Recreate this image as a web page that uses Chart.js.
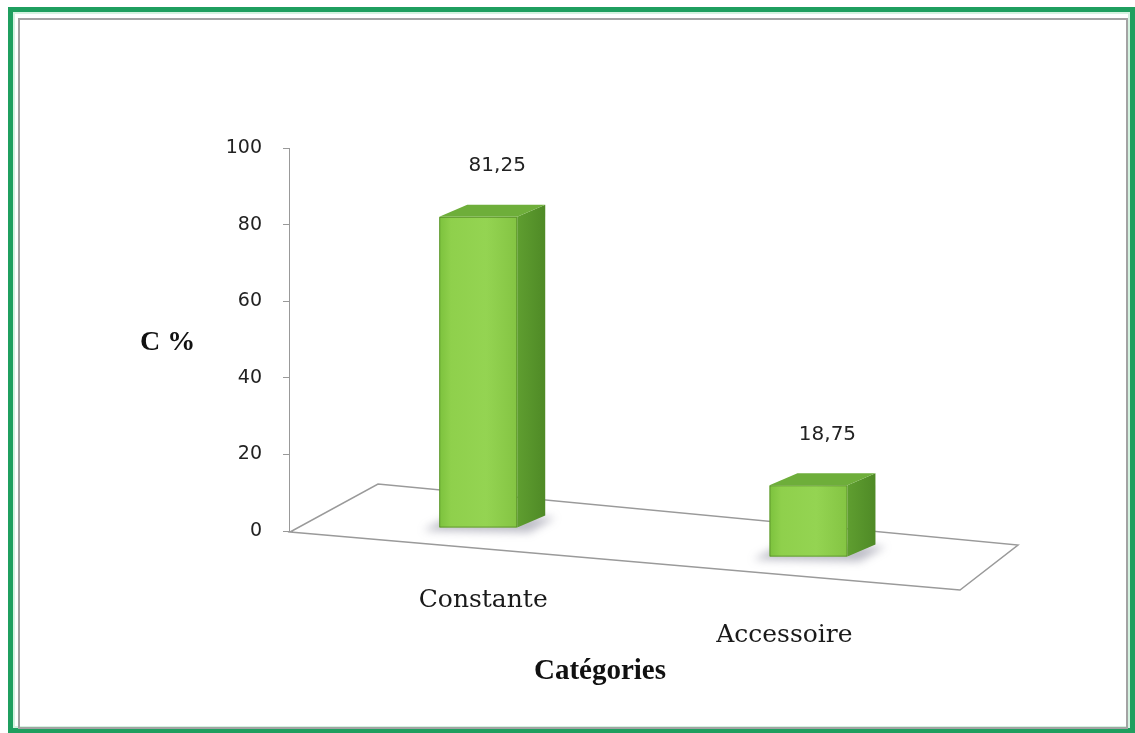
<!DOCTYPE html>
<html>
<head>
<meta charset="utf-8">
<script src="https://cdn.jsdelivr.net/npm/chart.js@4.4.1/dist/chart.umd.min.js"></script>
<style>
    html, body { margin: 0; padding: 0; background: #fff; }
    #frame {
        position: absolute; left: 8px; top: 7px; width: 1127px; height: 726px;
        border: 5px solid #1f9f5f; box-sizing: border-box;
        box-shadow: inset 0 0 0 2px #d4f2e0;
    }
    #inner {
        position: absolute; left: 18px; top: 18px; width: 1110px; height: 711px;
        border: 2px solid #a3a3a3; box-sizing: border-box;
    }
    #chart { position: absolute; left: 0; top: 0; }
</style>
</head>
<body>
<div id="frame"></div>
<div id="inner"></div>
<canvas id="chart" width="1135" height="733"></canvas>
<script>
const categories = ['Constante', 'Accessoire'];
const values = [81.25, 18.75];
const yTicks = [0, 20, 40, 60, 80, 100];

// oblique projection settings for the fake 3D look
const slope = 0.088;      // how much the floor drops per px to the right
const depthX = 28;
const depthY = -12;
const barW = 78;

function frNumber(v) {
    return v.toFixed(2).replace('.', ',');
}

// vertical shift of a bar standing on the tilted floor
function floorShift(area, cx) {
    return (cx - area.left) * slope - 19.6;
}

const bars3d = {
    id: 'bars3d',
    beforeDatasetsDraw(chart) {
        const { ctx, chartArea: a } = chart;
        const L = a.left, B = a.bottom;
        ctx.save();
        ctx.strokeStyle = '#9a9a9a';
        ctx.lineWidth = 1.5;
        ctx.beginPath();
        ctx.moveTo(L + 1, B + 1);
        ctx.lineTo(L + 671, B + 59);
        ctx.lineTo(L + 729, B + 14);
        ctx.lineTo(L + 89, B - 47);
        ctx.closePath();
        ctx.stroke();
        ctx.restore();
    },
    afterDatasetsDraw(chart) {
        const { ctx, chartArea: a } = chart;
        const meta = chart.getDatasetMeta(0);
        meta.data.forEach((el, i) => {
            const cx = el.x;
            const dy = floorShift(a, cx);
            const x0 = cx - barW / 2, x1 = cx + barW / 2;
            const yTop = el.y + dy, yBot = el.base + dy;

            // soft shadow on the floor
            ctx.save();
            ctx.filter = 'blur(4px)';
            ctx.fillStyle = 'rgba(90, 90, 115, 0.4)';
            ctx.beginPath();
            ctx.moveTo(x0 - 16, yBot + 3);
            ctx.lineTo(x1 + 12, yBot + 5);
            ctx.lineTo(x1 + depthX + 10, yBot + depthY + 2);
            ctx.lineTo(x0 + depthX - 16, yBot + depthY);
            ctx.closePath();
            ctx.fill();
            ctx.restore();

            ctx.save();
            ctx.lineJoin = 'round';
            // side face
            const sg = ctx.createLinearGradient(x1, 0, x1 + depthX, 0);
            sg.addColorStop(0, '#5f9e30');
            sg.addColorStop(1, '#4f8a26');
            ctx.fillStyle = sg;
            ctx.beginPath();
            ctx.moveTo(x1, yTop);
            ctx.lineTo(x1 + depthX, yTop + depthY);
            ctx.lineTo(x1 + depthX, yBot + depthY);
            ctx.lineTo(x1, yBot);
            ctx.closePath();
            ctx.fill();

            // top face
            ctx.fillStyle = '#6eae3a';
            ctx.beginPath();
            ctx.moveTo(x0, yTop);
            ctx.lineTo(x0 + depthX, yTop + depthY);
            ctx.lineTo(x1 + depthX, yTop + depthY);
            ctx.lineTo(x1, yTop);
            ctx.closePath();
            ctx.fill();

            // front face
            const fg = ctx.createLinearGradient(x0, 0, x1, 0);
            fg.addColorStop(0, '#7cc23d');
            fg.addColorStop(0.15, '#8fd04c');
            fg.addColorStop(0.6, '#94d452');
            fg.addColorStop(1, '#84c443');
            ctx.fillStyle = fg;
            ctx.fillRect(x0, yTop, barW, yBot - yTop);
            ctx.strokeStyle = 'rgba(70, 120, 30, 0.6)';
            ctx.lineWidth = 1;
            ctx.strokeRect(x0 + 0.5, yTop + 0.5, barW - 1, yBot - yTop - 1);
            ctx.restore();

            // value label
            ctx.save();
            ctx.fillStyle = '#222';
            ctx.font = '20px "DejaVu Sans"';
            ctx.textAlign = 'center';
            ctx.textBaseline = 'middle';
            ctx.fillText(frNumber(values[i]), cx + 19, yTop - 51);

            // category label, following the front edge of the floor
            const off = cx - a.left - 189;
            ctx.fillStyle = '#1a1a1a';
            ctx.font = '25px "DejaVu Serif"';
            ctx.fillText(categories[i], cx + 5 - off * slope, yBot + 73 + off * 0.018);
            ctx.restore();
        });

        // axis titles
        ctx.save();
        ctx.fillStyle = '#111';
        ctx.textBaseline = 'middle';
        ctx.font = 'bold 28px "Liberation Serif"';
        ctx.textAlign = 'left';
        ctx.fillText('C %', 140, 343);
        ctx.font = 'bold 29px "Liberation Serif"';
        ctx.textAlign = 'center';
        ctx.fillText('Catégories', 600, 672);
        ctx.restore();
    }
};

const ctx = document.getElementById('chart').getContext('2d');
new Chart(ctx, {
    type: 'bar',
    data: {
        datasets: [
            {
                label: 'C %',
                data: values.map((v, i) => ({ x: i, y: v })),
                backgroundColor: 'rgba(0, 0, 0, 0)',
                barThickness: barW,
            }
        ]
    },
    options: {
        responsive: false,
        animation: false,
        layout: {
            padding: { left: 219, top: 148, right: 135, bottom: 202 }
        },
        plugins: {
            legend: { display: false },
            tooltip: { enabled: false },
        },
        scales: {
            x: {
                type: 'linear',
                display: false,
                offset: false,
                min: -0.573,
                max: 1.58,
            },
            y: {
                min: 0,
                max: 100,
                afterFit(scale) { scale.width = 70; },
                afterBuildTicks(scale) {
                    scale.ticks = yTicks.map(v => ({ value: v }));
                },
                ticks: {
                    padding: 21,
                    color: '#222',
                    font: { family: 'DejaVu Sans', size: 19 },
                },
                grid: {
                    drawOnChartArea: false,
                    drawTicks: true,
                    tickLength: 6,
                    color: '#999',
                },
                border: { color: '#999' },
            }
        }
    },
    plugins: [bars3d]
});
</script>
</body>
</html>
